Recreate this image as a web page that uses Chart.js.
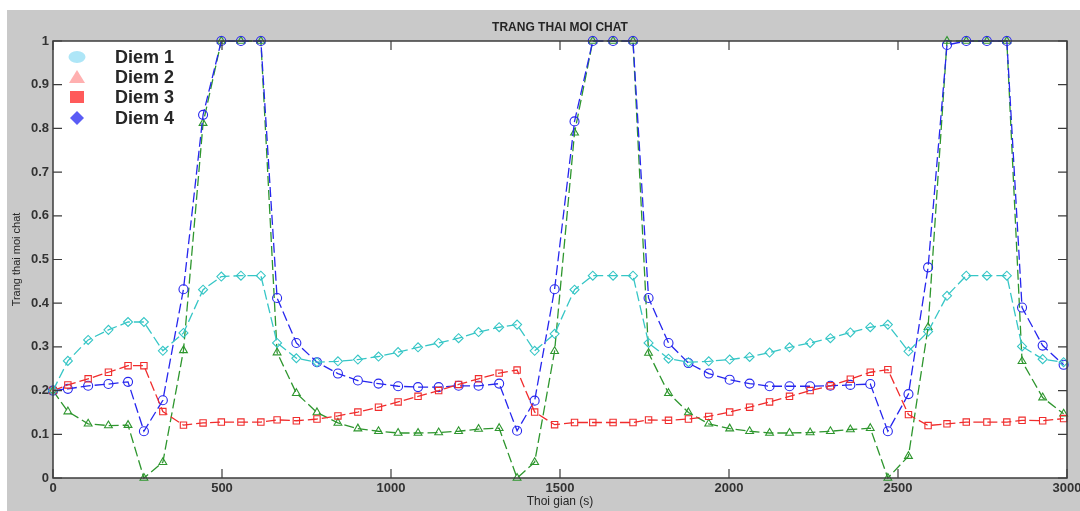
<!DOCTYPE html>
<html>
<head>
<meta charset="utf-8">
<title>Trang thai moi chat</title>
<script src="https://cdn.jsdelivr.net/npm/chart.js@4.4.1/dist/chart.umd.min.js"></script>
<style>
  html, body { margin: 0; padding: 0; background: #ffffff; }
  #wrap { position: relative; width: 1080px; height: 511px; }
</style>
</head>
<body>
<div id="wrap"><canvas id="chart"></canvas></div>
<script>
// Time points (s), shared by all four series
const times = [
  0, 44, 104, 164, 222, 269, 325, 386, 444, 498, 556, 615, 663, 720,
  781, 843, 902, 963, 1021, 1080, 1141, 1200, 1259, 1320, 1373, 1425, 1484,
  1543, 1597, 1657, 1716, 1762, 1821, 1880, 1940, 2002, 2061, 2120, 2179, 2240,
  2300, 2359, 2418, 2470, 2531, 2589, 2645, 2702, 2763, 2822, 2867, 2928, 2990
];

// Diem 1 (cyan diamonds)
const diem1 = [
  0.2, 0.268, 0.316, 0.339, 0.357, 0.357, 0.291, 0.332, 0.431, 0.461, 0.463, 0.463, 0.309, 0.274,
  0.265, 0.267, 0.271, 0.278, 0.288, 0.299, 0.309, 0.320, 0.334, 0.345, 0.351, 0.291, 0.330,
  0.431, 0.463, 0.463, 0.463, 0.309, 0.273, 0.265, 0.267, 0.271, 0.277, 0.287, 0.299, 0.309,
  0.320, 0.333, 0.345, 0.351, 0.290, 0.335, 0.417, 0.463, 0.463, 0.463, 0.301, 0.272, 0.265
];

// Diem 2 (green triangles)
const diem2 = [
  0.2, 0.152, 0.124, 0.120, 0.121, 0.0, 0.036, 0.292, 0.812, 1, 1, 1, 0.287, 0.194,
  0.150, 0.126, 0.113, 0.107, 0.103, 0.103, 0.104, 0.107, 0.112, 0.114, 0.0, 0.036, 0.290,
  0.790, 1, 1, 1, 0.286, 0.194, 0.150, 0.124, 0.113, 0.107, 0.103, 0.103, 0.104,
  0.107, 0.111, 0.114, 0.0, 0.050, 0.345, 1, 1, 1, 1, 0.267, 0.184, 0.147
];

// Diem 3 (red squares)
const diem3 = [
  0.2, 0.213, 0.227, 0.242, 0.257, 0.257, 0.152, 0.121, 0.126, 0.128, 0.128, 0.128, 0.133, 0.131,
  0.135, 0.142, 0.151, 0.162, 0.174, 0.187, 0.200, 0.214, 0.227, 0.240, 0.247, 0.151, 0.122,
  0.127, 0.127, 0.127, 0.127, 0.133, 0.132, 0.135, 0.141, 0.151, 0.162, 0.174, 0.187, 0.200,
  0.211, 0.226, 0.242, 0.248, 0.145, 0.120, 0.124, 0.128, 0.128, 0.128, 0.132, 0.131, 0.136
];

// Diem 4 (blue circles)
const diem4 = [
  0.2, 0.204, 0.211, 0.215, 0.220, 0.107, 0.178, 0.432, 0.831, 1, 1, 1, 0.412, 0.309,
  0.265, 0.239, 0.223, 0.216, 0.210, 0.208, 0.208, 0.211, 0.211, 0.216, 0.108, 0.177, 0.432,
  0.816, 1, 1, 1, 0.412, 0.309, 0.263, 0.239, 0.225, 0.216, 0.210, 0.210, 0.210,
  0.211, 0.213, 0.215, 0.107, 0.192, 0.482, 0.991, 1, 1, 1, 0.390, 0.303, 0.259
];

const seriesNames = ["Diem 1", "Diem 2", "Diem 3", "Diem 4"];
const xTicks = [0, 500, 1000, 1500, 2000, 2500, 3000];
const yTicks = [0, 0.1, 0.2, 0.3, 0.4, 0.5, 0.6, 0.7, 0.8, 0.9, 1];

const FONT = '"Liberation Sans", Arial, sans-serif';
const AXIS_COLOR = "#3c3c3c";

const toPoints = (values) => times.map((t, i) => ({ x: t, y: values[i] }));

const makeDataset = (label, values, color, pointStyle) => ({
  label: label,
  data: toPoints(values),
  borderColor: color,
  borderWidth: 1.3,
  borderDash: [10, 4],
  pointStyle: pointStyle,
  pointRadius: 4.5,
  pointBorderWidth: 1.1,
  pointBorderColor: color,
  pointBackgroundColor: "rgba(0,0,0,0)",
  tension: 0,
  clip: false,
});

// Gray figure, white axes area, frame, inward ticks, texts and legend
const matlabLook = {
  id: "matlabLook",
  beforeDraw(chart) {
    const { ctx, chartArea } = chart;
    ctx.save();
    ctx.fillStyle = "#c9c9c9";
    ctx.fillRect(7, 10, chart.width - 7, chart.height - 10);
    ctx.fillStyle = "#ffffff";
    ctx.fillRect(chartArea.left, chartArea.top,
      chartArea.right - chartArea.left, chartArea.bottom - chartArea.top);
    ctx.restore();
  },
  afterDraw(chart) {
    const { ctx, chartArea: a, scales } = chart;
    ctx.save();
    ctx.strokeStyle = AXIS_COLOR;
    ctx.lineWidth = 1.5;
    ctx.strokeRect(a.left, a.top, a.right - a.left, a.bottom - a.top);

    // inward ticks on all sides
    ctx.lineWidth = 1.2;
    const tl = 9;
    ctx.beginPath();
    xTicks.forEach((v) => {
      const px = scales.x.getPixelForValue(v);
      ctx.moveTo(px, a.bottom); ctx.lineTo(px, a.bottom - tl);
      ctx.moveTo(px, a.top); ctx.lineTo(px, a.top + tl);
    });
    yTicks.forEach((v) => {
      const py = scales.y.getPixelForValue(v);
      ctx.moveTo(a.left, py); ctx.lineTo(a.left + tl, py);
      ctx.moveTo(a.right, py); ctx.lineTo(a.right - tl, py);
    });
    ctx.stroke();

    // title and axis titles
    const cx = (a.left + a.right) / 2;
    ctx.fillStyle = "#262626";
    ctx.textAlign = "center";
    ctx.textBaseline = "middle";
    ctx.font = "bold 12px " + FONT;
    ctx.fillText("TRANG THAI MOI CHAT", cx, 28);
    ctx.font = "12px " + FONT;
    ctx.fillText("Thoi gian (s)", cx, 502);
    ctx.save();
    ctx.translate(17, (a.top + a.bottom) / 2);
    ctx.rotate(-Math.PI / 2);
    ctx.font = "11px " + FONT;
    ctx.fillText("Trang thai moi chat", 0, 0);
    ctx.restore();

    // legend (symbols as in the original figure)
    const symX = a.left + 24;
    const textX = a.left + 62;
    const rowY = [57, 77, 97, 118];
    const symColors = ["#aee6f7", "#ffb0b0", "#ff5a5a", "#5a5cf5"];
    rowY.forEach((y, i) => {
      ctx.fillStyle = symColors[i];
      ctx.beginPath();
      if (i === 0) {
        ctx.ellipse(symX, y, 8.5, 6, 0, 0, Math.PI * 2);
      } else if (i === 1) {
        ctx.moveTo(symX, y - 7); ctx.lineTo(symX + 8, y + 6); ctx.lineTo(symX - 8, y + 6);
        ctx.closePath();
      } else if (i === 2) {
        ctx.rect(symX - 7, y - 6, 14, 12);
      } else {
        ctx.moveTo(symX, y - 7); ctx.lineTo(symX + 7, y); ctx.lineTo(symX, y + 7); ctx.lineTo(symX - 7, y);
        ctx.closePath();
      }
      ctx.fill();
      ctx.fillStyle = "#262626";
      ctx.textAlign = "left";
      ctx.font = "bold 18px " + FONT;
      ctx.fillText(seriesNames[i], textX, y + 1);
    });
    ctx.restore();
  },
};

const ctx = document.getElementById("chart");

// drawn in this order so green ends up on top of blue, as in the original
const chart = new Chart(ctx, {
  type: "line",
  data: {
    datasets: [
      makeDataset(seriesNames[0], diem1, "#36c6c6", "rectRot"),
      makeDataset(seriesNames[2], diem3, "#f02c2c", "rect"),
      makeDataset(seriesNames[3], diem4, "#2626ee", "circle"),
      makeDataset(seriesNames[1], diem2, "#2e962e", "triangle"),
    ],
  },
  options: {
    responsive: true,
    maintainAspectRatio: false,
    animation: false,
    devicePixelRatio: 1,
    layout: { padding: { top: 41, right: 13, left: 0, bottom: 0 } },
    plugins: {
      legend: { display: false },
      title: { display: false },
      tooltip: { enabled: false },
    },
    scales: {
      x: {
        type: "linear",
        min: 0,
        max: 3000,
        afterBuildTicks: (s) => { s.ticks = xTicks.map((v) => ({ value: v })); },
        afterFit: (s) => { s.height = 33; s.paddingLeft = 0; s.paddingRight = 0; },
        ticks: {
          color: "#333333",
          font: { family: FONT, size: 13, weight: "bold" },
          padding: 3,
          maxRotation: 0,
          autoSkip: false,
          callback: (v) => String(v),
        },
        grid: { display: false, drawTicks: false },
        border: { display: false },
      },
      y: {
        min: 0,
        max: 1,
        afterBuildTicks: (s) => { s.ticks = yTicks.map((v) => ({ value: v })); },
        afterFit: (s) => { s.width = 53; s.paddingTop = 0; s.paddingBottom = 0; },
        ticks: {
          color: "#333333",
          font: { family: FONT, size: 13, weight: "bold" },
          padding: 4,
          autoSkip: false,
          callback: (v) => String(+v.toFixed(1)),
        },
        grid: { display: false, drawTicks: false },
        border: { display: false },
      },
    },
  },
  plugins: [matlabLook],
});
</script>
</body>
</html>
